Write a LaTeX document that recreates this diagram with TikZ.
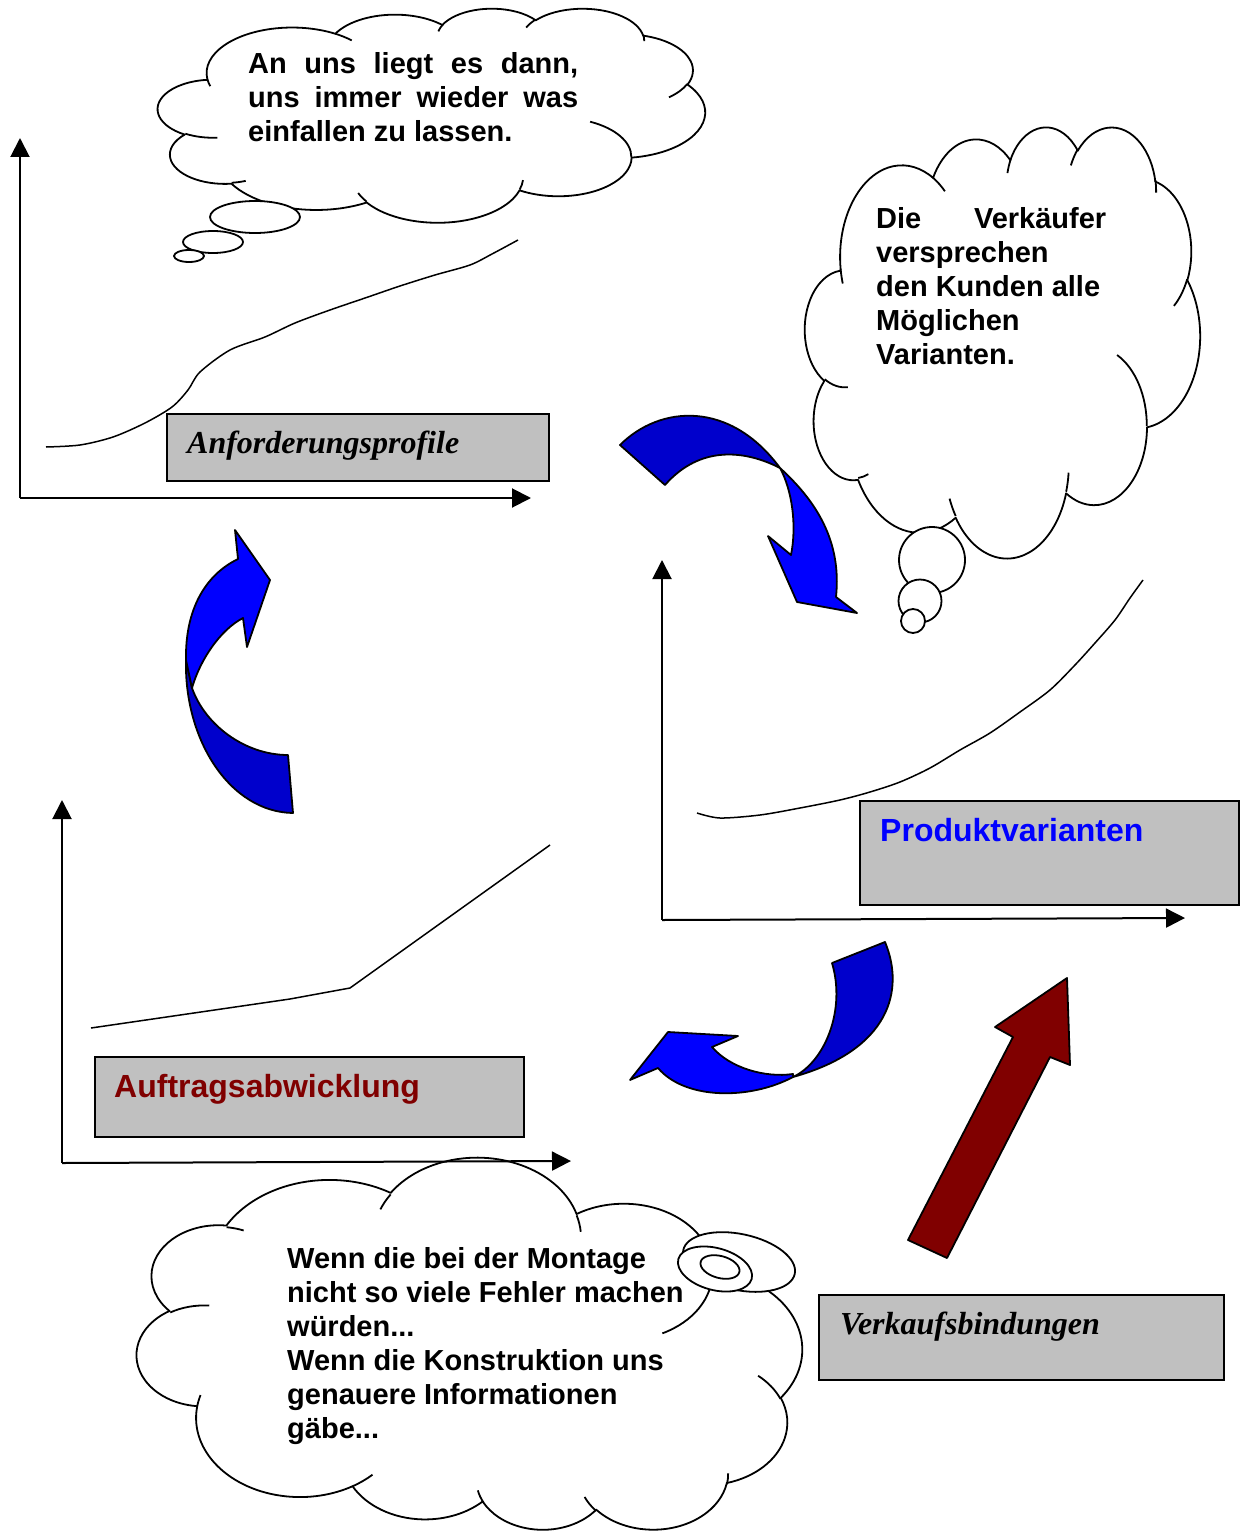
\documentclass[tikz,border=0pt]{standalone}
\usepackage{fontspec}
\setmainfont{Liberation Sans}
\newfontfamily\timesfont{Liberation Serif}
\usetikzlibrary{arrows.meta}

\definecolor{boxgray}{RGB}{192,192,192}
\definecolor{frontblue}{RGB}{0,0,255}
\definecolor{backblue}{RGB}{0,0,204}
\definecolor{arrowred}{RGB}{128,0,0}
\definecolor{labelred}{RGB}{128,0,0}

% elliptic arc given by radii, start angle and sweep (angles measured as rays)
\newcommand\cldarc[4]{arc[start angle={atan2((#1)*sin(#3),(#2)*cos(#3))+360*round(((#3)-atan2((#1)*sin(#3),(#2)*cos(#3)))/360)},
  end angle={atan2((#1)*sin((#3)+(#4)),(#2)*cos((#3)+(#4)))+360*round((((#3)+(#4))-atan2((#1)*sin((#3)+(#4)),(#2)*cos((#3)+(#4))))/360)},
  x radius=#1, y radius=#2]}

% cloud outline in a 432 x 432 box
\newcommand\cldbody{(39.00,143.70)
  \cldarc{67.53}{91.90}{-190.48748}{123.78053}
  \cldarc{53.33}{72.67}{-144.10238}{89.94523}
  \cldarc{43.65}{59.45}{-145.80792}{99.72302}
  \cldarc{48.57}{65.95}{-130.98607}{117.24173}
  \cldarc{53.33}{72.73}{-78.70888}{109.02692}
  \cldarc{67.75}{92.20}{-46.26725}{130.269}
  \cldarc{57.85}{78.67}{0.62502}{114.03333}
  \cldarc{67.52}{92.15}{22.4516}{115.17255}
  \cldarc{77.20}{105.43}{66.24263}{75.71102}
  \cldarc{43.60}{59.18}{-274.94208}{146.73557}
  \cldarc{43.45}{59.45}{-246.8285}{152.51885} -- cycle}

% short inner strokes of the puffs
\newcommand\cldhints{%
  (46.93,261.77) \cldarc{43.45}{59.45}{86.742}{26.4295}
  (69.28,348.99) \cldarc{43.60}{59.18}{73.61047}{11.44747}
  (164.78,390.90) \cldarc{67.52}{92.15}{137.62415}{14.0811}
  (288.27,347.51) \cldarc{67.52}{92.15}{6.45327}{15.99835}
  (341.29,229.54) \cldarc{57.85}{78.67}{-70.29235}{70.91737}
  (417.98,153.54) \cldarc{53.33}{72.73}{30.31803}{27.7515}
  (383.24,54.26) \cldarc{48.57}{65.95}{-13.74433}{14.8589}
  (290.78,39.52) \cldarc{48.57}{65.95}{-149.18145}{18.19537}
  (221.41,47.20) \cldarc{43.65}{59.45}{-163.49427}{17.68635}
  (140.00,51.92) \cldarc{67.53}{91.90}{-66.70695}{12.31935}
  (41.27,157.89) \cldarc{67.53}{91.90}{157.65435}{11.85817}}

% #1,#2: corner where the box starts, #3,#4: x and y unit of the box
\newcommand\drawcloud[4]{%
  \begin{scope}[shift={(#1,#2)}, x=#3pt, y=#4pt]
    \draw[cloudline, fill=white] \cldbody;
    \draw[cloudline] \cldhints;
  \end{scope}}

\newcommand\bodyfont{\fontsize{29}{34}\selectfont\bfseries}
\newcommand\sanslabel{\fontsize{32}{38}\selectfont\bfseries}
\newcommand\seriflabel{\timesfont\fontsize{32}{38}\selectfont\bfseries\itshape}

\tikzset{
  cloudline/.style={line width=1.8pt, line join=round},
  bubble/.style={cloudline, fill=white},
  axis/.style={line width=2pt, -{Triangle[length=19pt, width=19pt]}},
  graphline/.style={line width=1.5pt, line join=round},
  labelbox/.style={draw, line width=2pt, fill=boxgray, inner sep=0pt, anchor=north west},
  textblock/.style={anchor=base west, inner sep=0pt},
  ribbon/.style={draw, line width=1.8pt, line join=round},
}

\begin{document}
\begin{tikzpicture}[x=1pt, y=-1pt]
\useasboundingbox (0,0) rectangle (1247,1533);

% ---- thought clouds ----
\drawcloud{158}{8}{1.26620}{-0.49537}
\draw[bubble] (255,217) ellipse [x radius=45, y radius=16];
\draw[bubble] (213,242) ellipse [x radius=30, y radius=11];
\draw[bubble] (189,256) ellipse [x radius=15, y radius=6];

\drawcloud{805}{126}{0.91435}{-0.99769}
\draw[bubble] (932,560) circle [radius=33];
\draw[bubble] (920,601) circle [radius=21.5];
\draw[bubble] (913,621) circle [radius=12];

% this one is upside down
\drawcloud{137}{1531}{1.53935}{0.86111}
\draw[bubble, rotate around={-12:(739,1262)}] (739,1262) ellipse [x radius=57, y radius=28];
\draw[bubble, rotate around={-15:(715,1269)}] (715,1269) ellipse [x radius=38, y radius=21];
\draw[bubble, rotate around={-15:(720,1267)}] (720,1267) ellipse [x radius=20, y radius=11];

% ---- chart: Anforderungsprofile ----
\coordinate (o1) at (20,498);
\coordinate (y1) at (20,138);
\coordinate (x1) at (531,498);
\draw[graphline] plot[smooth, tension=0.5] coordinates {(46,447) (80,445) (113,437) (145,423) (172,407) (188,390) (200,372) (230,350) (265,337) (295,323) (330,310) (368,297) (400,286) (435,275) (470,265) (492,254) (518,240)};
\draw[axis] (o1) -- (y1);
\draw[axis] (o1) -- (x1);
\node[labelbox, minimum width=382pt, minimum height=67pt] (box1) at (166,413) {};
\node[textblock, font=\seriflabel] (lab1) at (187,453) {Anforderungsprofile};

% ---- chart: Produktvarianten ----
\coordinate (o2) at (662,920);
\coordinate (y2) at (662,560);
\coordinate (x2) at (1185,918);
\draw[graphline] plot[smooth, tension=0.5] coordinates {(697,813) (720,818) (760,815) (800,808) (840,800) (870,792) (900,782) (930,768) (960,750) (990,733) (1020,712) (1050,690) (1075,665) (1095,643) (1115,620) (1130,598) (1143,580)};
\draw[axis] (o2) -- (y2);
\draw[axis] (o2) -- (x2);
\node[labelbox, minimum width=379pt, minimum height=104pt] (box2) at (859,800) {};
\node[textblock, font=\sanslabel, text=frontblue] (lab2) at (880,841) {Produktvarianten};

% ---- chart: Auftragsabwicklung ----
\coordinate (o3) at (62,1163);
\coordinate (y3) at (62,800);
\coordinate (x3) at (571,1161);
\draw[graphline] (91,1028) -- (290,999) -- (350,988) -- (550,845);
\draw[axis] (o3) -- (y3);
\draw[axis] (o3) -- (x3);
\node[labelbox, minimum width=429pt, minimum height=80pt] (box3) at (94,1056) {};
\node[textblock, font=\sanslabel, text=labelred] (lab3) at (114,1097) {Auftragsabwicklung};

% ---- Verkaufsbindungen ----
\node[labelbox, minimum width=405pt, minimum height=85pt] (box4) at (818,1294) {};
\node[textblock, font=\seriflabel] (lab4) at (840,1334) {Verkaufsbindungen};

% ---- curved ribbon arrows ----
% top: towards the right chart
\draw[ribbon, fill=backblue] (620,445) .. controls (660,405) and (730,400) .. (780,468)
  .. controls (745,450) and (700,445) .. (665,485) -- cycle;
\draw[ribbon, fill=frontblue] (780,468) .. controls (815,500) and (842,540) .. (836,597)
  -- (857,613) -- (797,602) -- (768,536) -- (791,555)
  .. controls (797,525) and (792,490) .. (780,468) -- cycle;

% left: back up to the first chart
\draw[ribbon, fill=backblue] (186,660) .. controls (184,740) and (230,812) .. (293,813)
  -- (288,755) .. controls (245,755) and (205,725) .. (192,688) -- cycle;
\draw[ribbon, fill=frontblue] (192,688) .. controls (200,660) and (220,630) .. (243,618)
  -- (247,647) -- (270,580) -- (235,530) -- (238,559)
  .. controls (205,575) and (185,610) .. (186,660) -- cycle;

% bottom: towards the order handling chart
\draw[ribbon, fill=backblue] (832,963) -- (885,942) .. controls (905,990) and (890,1050) .. (793,1077)
  .. controls (825,1062) and (846,1010) .. (832,963) -- cycle;
\draw[ribbon, fill=frontblue] (793,1077) .. controls (750,1100) and (685,1100) .. (658,1068)
  -- (630,1080) -- (668,1032) -- (738,1036) -- (712,1047)
  .. controls (730,1068) and (765,1078) .. (793,1074) -- cycle;

% straight arrow from the sales commitments
\draw[ribbon, fill=arrowred] (908,1240) -- (1013,1037) -- (995,1027) -- (1067,978)
  -- (1070,1065) -- (1050,1057) -- (947,1258) -- cycle;

% ---- cloud texts ----
\node[textblock] (say1) at (248,74) {\parbox[t]{330pt}{\bodyfont
  \makebox[330pt][s]{An uns liegt es dann,}\\
  \makebox[330pt][s]{uns immer wieder was}\\
  einfallen zu lassen.}};

\node[textblock] (say2) at (876,228) {\parbox[t]{240pt}{\bodyfont
  \makebox[230pt][s]{Die Verkäufer}\\
  versprechen\\
  den Kunden alle\\
  Möglichen\\
  Varianten.}};

\node[textblock] (say3) at (287,1268) {\parbox[t]{460pt}{\bodyfont
  Wenn die bei der Montage\\
  nicht so viele Fehler machen\\
  würden...\\
  Wenn die Konstruktion uns\\
  genauere Informationen\\
  gäbe...}};
\end{tikzpicture}
\end{document}
